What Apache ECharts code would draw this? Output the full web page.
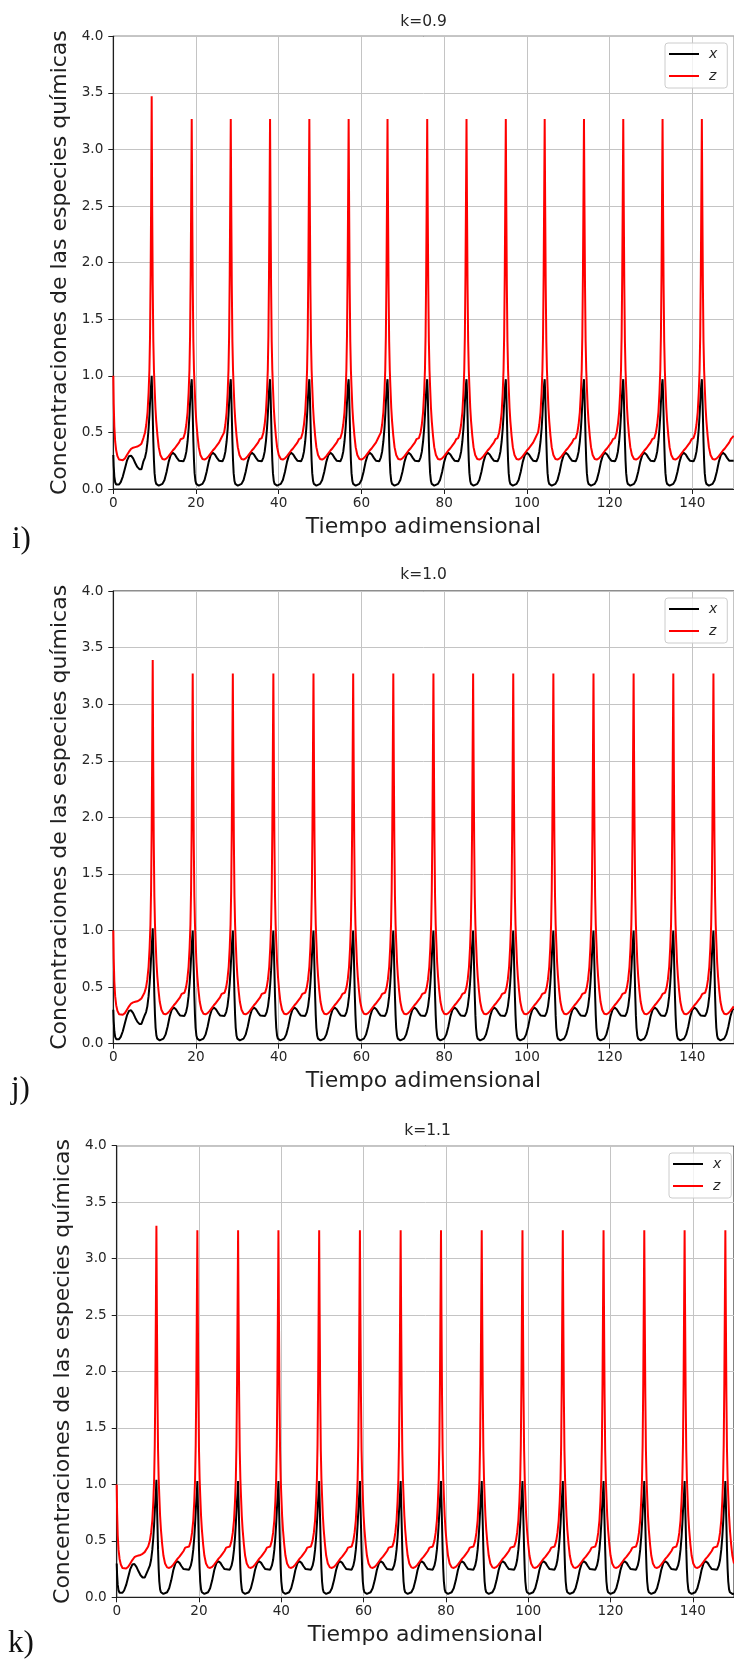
<!DOCTYPE html>
<html>
<head>
<meta charset="utf-8">
<script src="https://cdn.jsdelivr.net/npm/echarts@6/dist/echarts.min.js"></script>
<style>
  html, body { margin: 0; padding: 0; background: #ffffff; }
  #grafico { width: 734px; height: 1663px; }
</style>
</head>
<body>
<div id="grafico"></div>
<script>
// Valores de k de cada simulación y rótulo de cada panel
const valoresK = ['k=0.9', 'k=1.0', 'k=1.1'];
const rotulos = ['i)', 'j)', 'k)'];

// Tiempos de los picos (tiempo adimensional)
const picosK09 = [9.28, 18.96, 28.4, 37.9, 47.4, 56.9, 66.3, 75.9, 85.4, 94.9, 104.3, 113.8, 123.3, 132.8, 142.3];
const picosK10 = [9.53, 19.2, 28.9, 38.7, 48.4, 58.0, 67.7, 77.4, 87.0, 96.7, 106.4, 116.1, 125.8, 135.4, 145.1];
const picosK11 = [9.65, 19.6, 29.5, 39.3, 49.2, 59.1, 69.0, 78.8, 88.7, 98.6, 108.4, 118.3, 128.2, 138.0, 147.9];

// Altura de z en cada pico
const zPicoK09 = [3.47, 3.27, 3.27, 3.27, 3.27, 3.27, 3.27, 3.27, 3.27, 3.27, 3.27, 3.27, 3.27, 3.27, 3.27];
const zPicoK10 = [3.39, 3.27, 3.27, 3.27, 3.27, 3.27, 3.27, 3.27, 3.27, 3.27, 3.27, 3.27, 3.27, 3.27, 3.27];
const zPicoK11 = [3.29, 3.25, 3.25, 3.25, 3.25, 3.25, 3.25, 3.25, 3.25, 3.25, 3.25, 3.25, 3.25, 3.25, 3.25];

// Altura de x en cada pico
const xPicoK09 = [1.00, 0.97, 0.97, 0.97, 0.97, 0.97, 0.97, 0.97, 0.97, 0.97, 0.97, 0.97, 0.97, 0.97, 0.97];
const xPicoK10 = [1.02, 1.00, 1.00, 1.00, 1.00, 1.00, 1.00, 1.00, 1.00, 1.00, 1.00, 1.00, 1.00, 1.00, 1.00];
const xPicoK11 = [1.04, 1.03, 1.03, 1.03, 1.03, 1.03, 1.03, 1.03, 1.03, 1.03, 1.03, 1.03, 1.03, 1.03, 1.03];

// Tramo inicial (t = 0 ... 6.8), igual en las tres simulaciones
const tInicio = [0, 0.1, 0.25, 0.45, 0.7, 1.0, 1.4, 1.8, 2.3, 2.8, 3.3, 3.8, 4.3, 4.8, 5.3, 5.8, 6.3, 6.8];
const xInicio = [0.30, 0.20, 0.11, 0.06, 0.04, 0.035, 0.04, 0.06, 0.11, 0.18, 0.25, 0.29, 0.295, 0.27, 0.23, 0.195, 0.175, 0.175];
const zInicio = [1.00, 0.75, 0.55, 0.42, 0.34, 0.29, 0.26, 0.25, 0.255, 0.27, 0.30, 0.33, 0.355, 0.365, 0.37, 0.375, 0.385, 0.40];

// Forma del ciclo alrededor de cada pico, en tiempo relativo al pico
const tSubida = [-2.0, -1.6, -1.3, -1.0, -0.75, -0.55, -0.4, -0.25, -0.12];
const xSubida = [0.245, 0.28, 0.33, 0.42, 0.53, 0.65, 0.76, 0.86, 0.93];
const zSubida = [0.45, 0.50, 0.57, 0.68, 0.85, 1.05, 1.35, 1.9, 2.6];
const tBajada = [0.12, 0.25, 0.4, 0.55, 0.7, 0.9, 1.1, 1.4, 1.7, 2.1, 2.6, 3.1, 3.6, 4.1, 4.6, 5.1, 5.6, 6.1, 6.6, 7.0];
const xBajada = [0.85, 0.65, 0.42, 0.25, 0.14, 0.07, 0.045, 0.035, 0.03, 0.032, 0.045, 0.08, 0.15, 0.24, 0.30, 0.32, 0.305, 0.275, 0.25, 0.24];
const zBajada = [2.5, 1.8, 1.3, 1.05, 0.9, 0.72, 0.6, 0.47, 0.37, 0.3, 0.265, 0.26, 0.27, 0.29, 0.315, 0.34, 0.36, 0.385, 0.41, 0.44];

// Valor al final del intervalo (t = 150)
const tFinal = 150;
const xFinal = [0.25, 0.31, 0.032];
const zFinal = [0.47, 0.33, 0.30];

const simulaciones = [
  { picos: picosK09, zPico: zPicoK09, xPico: xPicoK09 },
  { picos: picosK10, zPico: zPicoK10, xPico: xPicoK10 },
  { picos: picosK11, zPico: zPicoK11, xPico: xPicoK11 }
];

// Disposición de cada panel en la página
const paneles = [
  { left: 113.3, top: 36.3,   width: 620.4, height: 452.7, cx: 423.5, tituloY: 21.5,  legX: 665, legY: 43,   rotX: 12, rotY: 540 },
  { left: 113.3, top: 591.0,  width: 620.4, height: 452.7, cx: 423.5, tituloY: 575,   legX: 665, legY: 598,  rotX: 11, rotY: 1090 },
  { left: 116.7, top: 1145.7, width: 621.5, height: 451.6, cx: 427.5, tituloY: 1131,  legX: 669, legY: 1153, rotX: 8,  rotY: 1644 }
];

function construirSerie(sim, idx, campo) {
  const inicio = campo === 'x' ? xInicio : zInicio;
  const subida = campo === 'x' ? xSubida : zSubida;
  const bajada = campo === 'x' ? xBajada : zBajada;
  const pico = campo === 'x' ? sim.xPico : sim.zPico;
  const fin = campo === 'x' ? xFinal[idx] : zFinal[idx];
  const puntos = [];
  const agregar = (t, v) => { if (t < tFinal) puntos.push([+t.toFixed(3), v]); };
  tInicio.forEach((t, i) => agregar(t, inicio[i]));
  sim.picos.forEach((p, n) => {
    tSubida.forEach((d, i) => agregar(p + d, subida[i]));
    agregar(p, pico[n]);
    const siguiente = n + 1 < sim.picos.length ? sim.picos[n + 1] + tSubida[0] : Infinity;
    tBajada.forEach((d, i) => { if (p + d < siguiente) agregar(p + d, bajada[i]); });
  });
  puntos.push([tFinal, fin]);
  return puntos;
}

const colorTexto = '#262626';
const colorEje = '#1f1f1f';
const fuente = 'DejaVu Sans';

const option = {
  animation: false,
  textStyle: { fontFamily: fuente },
  grid: paneles.map(p => ({
    left: p.left, top: p.top, width: p.width, height: p.height,
    show: true, borderColor: colorEje, borderWidth: 1.1, backgroundColor: 'transparent',
    containLabel: false
  })),
  xAxis: paneles.map((p, i) => ({
    type: 'value', gridIndex: i, min: 0, max: 150, interval: 20,
    axisLine: { show: true, onZero: false, lineStyle: { color: colorEje, width: 1.1 } },
    axisTick: { show: true, length: 5, lineStyle: { color: colorEje, width: 1 } },
    axisLabel: { margin: 7, fontSize: 13.6, color: colorTexto, fontFamily: fuente, showMaxLabel: false },
    splitLine: { show: true, lineStyle: { color: '#c4c4c4', width: 1 } },
    name: 'Tiempo adimensional', nameLocation: 'middle', nameGap: 27,
    nameTextStyle: { fontSize: 22, color: colorEje, fontFamily: fuente }
  })),
  yAxis: paneles.map((p, i) => ({
    type: 'value', gridIndex: i, min: 0, max: 4, interval: 0.5,
    axisLine: { show: true, onZero: false, lineStyle: { color: colorEje, width: 1.1 } },
    axisTick: { show: true, length: 5, lineStyle: { color: colorEje, width: 1 } },
    axisLabel: { margin: 10, fontSize: 13.6, color: colorTexto, fontFamily: fuente,
                 formatter: v => v.toFixed(1) },
    splitLine: { show: true, lineStyle: { color: '#c4c4c4', width: 1 } },
    name: 'Concentraciones de las especies químicas', nameLocation: 'middle', nameGap: 42,
    nameTextStyle: { fontSize: 22, color: colorEje, fontFamily: fuente }
  })),
  legend: paneles.map(p => ({
    data: ['x', 'z'], orient: 'vertical', left: p.legX, top: p.legY,
    icon: 'rect', itemWidth: 30, itemHeight: 2, itemGap: 8, padding: [4, 10, 5, 4],
    backgroundColor: 'rgba(255,255,255,0.8)', borderColor: '#cccccc', borderWidth: 1, borderRadius: 3,
    selectedMode: false,
    textStyle: { fontFamily: fuente, fontStyle: 'italic', fontSize: 14, color: colorTexto, padding: [0, 0, 0, 5] }
  })),
  graphic: paneles.flatMap((p, i) => ([
    { type: 'text', x: p.cx, y: p.tituloY,
      style: { text: valoresK[i], font: '15.5px "DejaVu Sans"', fill: colorTexto, align: 'center', verticalAlign: 'middle' } },
    { type: 'text', x: p.rotX, y: p.rotY,
      style: { text: rotulos[i], font: '31px "Liberation Serif"', fill: '#111111', align: 'left', verticalAlign: 'middle' } }
  ])),
  series: simulaciones.flatMap((sim, i) => ([
    { name: 'x', type: 'line', xAxisIndex: i, yAxisIndex: i, data: construirSerie(sim, i, 'x'),
      showSymbol: false, symbol: 'none', lineStyle: { color: '#000000', width: 2 }, itemStyle: { color: '#000000' } },
    { name: 'z', type: 'line', xAxisIndex: i, yAxisIndex: i, data: construirSerie(sim, i, 'z'),
      showSymbol: false, symbol: 'none', lineStyle: { color: '#ff0000', width: 2 }, itemStyle: { color: '#ff0000' } }
  ]))
};

const grafico = echarts.init(document.getElementById('grafico'), null, { renderer: 'canvas' });
grafico.setOption(option);
</script>
</body>
</html>
